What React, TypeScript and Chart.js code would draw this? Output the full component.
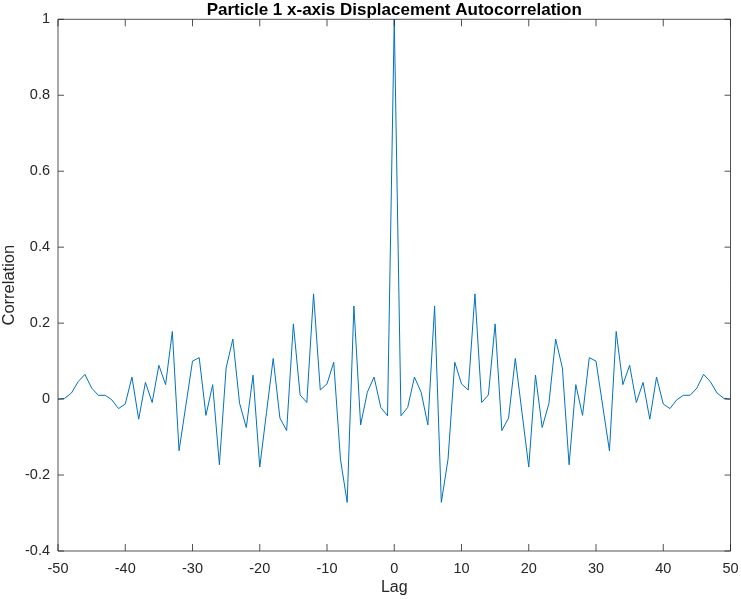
import { useEffect, useRef } from "react";
import { Chart, registerables } from "chart.js";

Chart.register(...registerables);

// lags -50 .. 50
const lags = Array.from({ length: 101 }, (_, i) => i - 50);

// autocorrelation (symmetric around lag 0)
const correlation = [
  0.0, 0.002, 0.016, 0.046, 0.065, 0.029, 0.01, 0.01, -0.002, -0.025,
  -0.013, 0.058, -0.053, 0.044, -0.009, 0.089, 0.038, 0.178, -0.136, -0.018,
  0.1, 0.109, -0.043, 0.038, -0.173, 0.082, 0.158, -0.011, -0.075, 0.063,
  -0.179, -0.036, 0.107, -0.05, -0.083, 0.198, 0.011, -0.009, 0.277, 0.024,
  0.04, 0.097, -0.158, -0.272, 0.245, -0.068, 0.018, 0.058, -0.022, -0.044,
  1.0,
  -0.044, -0.022, 0.058, 0.018, -0.068, 0.245, -0.272, -0.158, 0.097, 0.04,
  0.024, 0.277, -0.009, 0.011, 0.198, -0.083, -0.05, 0.107, -0.036, -0.179,
  0.063, -0.075, -0.011, 0.158, 0.082, -0.173, 0.038, -0.043, 0.109, 0.1,
  -0.018, -0.136, 0.178, 0.038, 0.089, -0.009, 0.044, -0.053, 0.058, -0.013,
  -0.025, -0.002, 0.01, 0.01, 0.029, 0.065, 0.046, 0.016, 0.002, 0.0,
];

const xTicks = [-50, -40, -30, -20, -10, 0, 10, 20, 30, 40, 50];
const yTicks = [-0.4, -0.2, 0, 0.2, 0.4, 0.6, 0.8, 1];

const TITLE = "Particle 1 x-axis Displacement Autocorrelation";
const FONT = "'Liberation Sans', Arial, Helvetica, sans-serif";
const AXIS_COLOR = "#262626";

// MATLAB style box with inward ticks on all four sides, title centred over the axes
const boxPlugin = {
  id: "matlabBox",
  afterDraw(chart: any) {
    const { ctx, chartArea } = chart;
    const { left, right, top, bottom } = chartArea;
    const xs = chart.scales.x;
    const ys = chart.scales.y;
    ctx.save();
    ctx.strokeStyle = AXIS_COLOR;
    ctx.lineWidth = 0.8;
    ctx.beginPath();
    ctx.rect(left, top, right - left, bottom - top);
    xTicks.forEach((t) => {
      const px = xs.getPixelForValue(t);
      ctx.moveTo(px, bottom);
      ctx.lineTo(px, bottom - 7);
      ctx.moveTo(px, top);
      ctx.lineTo(px, top + 7);
    });
    yTicks.forEach((t) => {
      const py = ys.getPixelForValue(t);
      ctx.moveTo(left, py);
      ctx.lineTo(left + 6, py);
      ctx.moveTo(right, py);
      ctx.lineTo(right - 6, py);
    });
    ctx.stroke();

    ctx.fillStyle = "#000";
    ctx.font = `bold 17px ${FONT}`;
    ctx.textAlign = "center";
    ctx.textBaseline = "middle";
    ctx.fillText(TITLE, (left + right) / 2, 10);
    ctx.restore();
  },
};

const AutocorrChart = () => {
  const chartRef = useRef<HTMLCanvasElement>(null);

  useEffect(() => {
    const ctx = chartRef.current!.getContext("2d")!;

    const myChart = new Chart(ctx, {
      type: "line",
      data: {
        datasets: [
          {
            label: "Autocorrelation",
            data: lags.map((l, i) => ({ x: l, y: correlation[i] })),
            borderColor: "#0072BD",
            borderWidth: 1,
            pointRadius: 0,
            tension: 0,
            fill: false,
          },
        ],
      },
      options: {
        responsive: false,
        animation: false,
        layout: { padding: { left: 0, right: 10.5, top: 19.3, bottom: 0 } },
        plugins: {
          legend: { display: false },
          tooltip: { enabled: false },
          title: { display: false },
        },
        scales: {
          x: {
            type: "linear",
            min: -50,
            max: 50,
            grid: { display: false, drawTicks: false },
            border: { display: false },
            afterBuildTicks: (scale: any) => {
              scale.ticks = xTicks.map((v) => ({ value: v }));
            },
            afterFit: (scale: any) => {
              scale.height = 48;
              scale.paddingLeft = 0;
              scale.paddingRight = 0;
            },
            ticks: {
              color: AXIS_COLOR,
              font: { family: FONT, size: 14.5 },
              padding: 9,
              maxRotation: 0,
              autoSkip: false,
            },
            title: {
              display: true,
              text: "Lag",
              color: AXIS_COLOR,
              font: { family: FONT, size: 16 },
              padding: { top: 0, bottom: 2 },
            },
          },
          y: {
            type: "linear",
            min: -0.4,
            max: 1,
            grid: { display: false, drawTicks: false },
            border: { display: false },
            afterBuildTicks: (scale: any) => {
              scale.ticks = yTicks.map((v) => ({ value: v }));
            },
            afterFit: (scale: any) => {
              scale.width = 58;
              scale.paddingTop = 0;
              scale.paddingBottom = 0;
            },
            ticks: {
              color: AXIS_COLOR,
              font: { family: FONT, size: 14.5 },
              padding: 8,
              autoSkip: false,
              callback: (v: any) => String(parseFloat(Number(v).toFixed(1))),
            },
            title: {
              display: true,
              text: "Correlation",
              color: AXIS_COLOR,
              font: { family: FONT, size: 16.5 },
              padding: { top: 0, bottom: 0 },
            },
          },
        },
      },
      plugins: [boxPlugin],
    });

    return () => {
      myChart.destroy();
    };
  }, []);

  return <canvas ref={chartRef} width={741} height={599} />;
};

export default function App() {
  return (
    <div style={{ position: "fixed", left: 0, top: 0, width: 741, height: 599, background: "#fff" }}>
      <AutocorrChart />
    </div>
  );
}
